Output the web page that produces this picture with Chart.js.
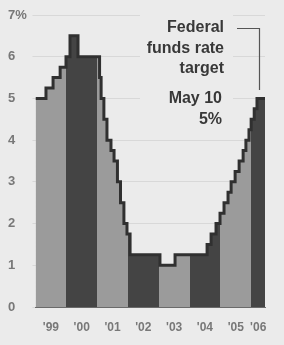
<!DOCTYPE html>
<html>
<head>
<meta charset="utf-8">
<script src="https://cdn.jsdelivr.net/npm/chart.js@4"></script>
<style>
  html, body { margin: 0; padding: 0; background: #ebebeb; }
  canvas { display: block; }
</style>
</head>
<body>
<canvas id="rateChart" width="284" height="345"></canvas>
<script>
// Federal funds rate target (fractional years)
const stepYears = [1999.0, 1999.34, 1999.57, 1999.80, 1999.99, 2000.12, 2000.38,
    2001.08, 2001.13, 2001.22, 2001.32, 2001.45, 2001.55, 2001.66, 2001.76, 2001.87, 2001.97,
    2002.07, 2003.04, 2003.53,
    2004.57, 2004.70, 2004.86, 2004.99, 2005.12, 2005.25, 2005.35, 2005.48,
    2005.61, 2005.74, 2005.83, 2005.93, 2006.00, 2006.10, 2006.19, 2006.45];
const rateValues = [5.0, 5.25, 5.5, 5.75, 6.0, 6.5, 6.0,
    5.5, 5.0, 4.5, 4.0, 3.75, 3.5, 3.0, 2.5, 2.0, 1.75,
    1.25, 1.0, 1.25,
    1.5, 1.75, 2.0, 2.25, 2.5, 2.75, 3.0, 3.25,
    3.5, 3.75, 4.0, 4.25, 4.5, 4.75, 5.0, 5.0];

const bandYears = [1999, 2000, 2001, 2002, 2003, 2004, 2005, 2006];
const yearLabels = ["'99", "'00", "'01", "'02", "'03", "'04", "'05", "'06"];
const labelYears = [1999.5, 2000.5, 2001.5, 2002.5, 2003.5, 2004.5, 2005.5, 2006.23];
const yTicks = [0, 1, 2, 3, 4, 5, 6, 7];
const noteLines = ['Federal', 'funds rate', 'target'];
const latestLines = ['May 10', '5%'];

const X_MAX = 2006.45;
const PAPER = '#ebebeb';
const LIGHT = '#9b9b9b';
const DARK = '#444444';

// alternating year shading under the step line
function bandFill(context) {
    const chart = context.chart;
    const area = chart.chartArea;
    if (!area) return LIGHT;
    const x = chart.scales.x;
    const g = chart.ctx.createLinearGradient(area.left, 0, area.right, 0);
    const w = area.right - area.left;
    bandYears.forEach((yr, i) => {
        const a = Math.max(0, (x.getPixelForValue(yr) - area.left) / w);
        const next = i + 1 < bandYears.length ? bandYears[i + 1] : X_MAX;
        const b = Math.min(1, (x.getPixelForValue(next) - area.left) / w);
        const c = i % 2 === 0 ? LIGHT : DARK;
        g.addColorStop(a, c);
        g.addColorStop(b, c);
    });
    return g;
}

const notePlugin = {
    id: 'note',
    afterDraw(chart) {
        const ctx = chart.ctx;
        ctx.save();
        // paper behind the label hides the grid lines
        ctx.fillStyle = PAPER;
        ctx.fillRect(140, 8, 93, 122);

        ctx.fillStyle = '#383838';
        ctx.font = 'bold 16px "Liberation Sans", Arial, sans-serif';
        ctx.textAlign = 'right';
        ctx.textBaseline = 'alphabetic';
        noteLines.forEach((t, i) => ctx.fillText(t, 224, 32 + i * 20.5));
        latestLines.forEach((t, i) => ctx.fillText(t, 222, 102.5 + i * 21));

        // bracket from the label down to the last point
        ctx.strokeStyle = '#555';
        ctx.lineWidth = 1.2;
        ctx.beginPath();
        ctx.moveTo(237, 28.5);
        ctx.lineTo(259.5, 28.5);
        ctx.lineTo(259.5, 90);
        ctx.stroke();
        ctx.restore();
    }
};

new Chart(document.getElementById('rateChart'), {
    type: 'line',
    data: {
        datasets: [{
            data: stepYears.map((yr, i) => ({ x: yr, y: rateValues[i] })),
            stepped: true,
            borderColor: '#303030',
            borderWidth: 3,
            pointRadius: 0,
            fill: 'origin',
            backgroundColor: bandFill
        }]
    },
    options: {
        responsive: false,
        animation: false,
        devicePixelRatio: 1,
        layout: { padding: { left: 8, top: 15, right: 19, bottom: 0 } },
        plugins: { legend: { display: false }, tooltip: { enabled: false } },
        scales: {
            x: {
                type: 'linear',
                min: 1999,
                max: X_MAX,
                grid: { display: false, drawTicks: false },
                border: { display: true, color: '#6a6a6a', width: 1 },
                afterBuildTicks: scale => {
                    scale.ticks = labelYears.map(v => ({ value: v }));
                },
                afterFit: scale => { scale.height = 38; },
                ticks: {
                    autoSkip: false,
                    maxRotation: 0,
                    padding: 13,
                    color: '#787878',
                    font: { family: '"Liberation Sans", Arial, sans-serif', size: 12, weight: 'bold' },
                    callback: (v, i) => yearLabels[i]
                }
            },
            y: {
                min: 0,
                max: 7,
                z: 1,
                afterBuildTicks: scale => {
                    scale.ticks = yTicks.map(v => ({ value: v }));
                },
                afterFit: scale => { scale.width = 27.5; },
                grid: { color: 'rgba(200,200,200,0.55)', lineWidth: 1, tickLength: 3 },
                border: { display: false },
                ticks: {
                    crossAlign: 'far',
                    color: '#787878',
                    font: { family: '"Liberation Sans", Arial, sans-serif', size: 13, weight: 'bold' },
                    callback: v => v === 7 ? '7%' : v
                }
            }
        }
    },
    plugins: [notePlugin]
});
</script>
</body>
</html>
